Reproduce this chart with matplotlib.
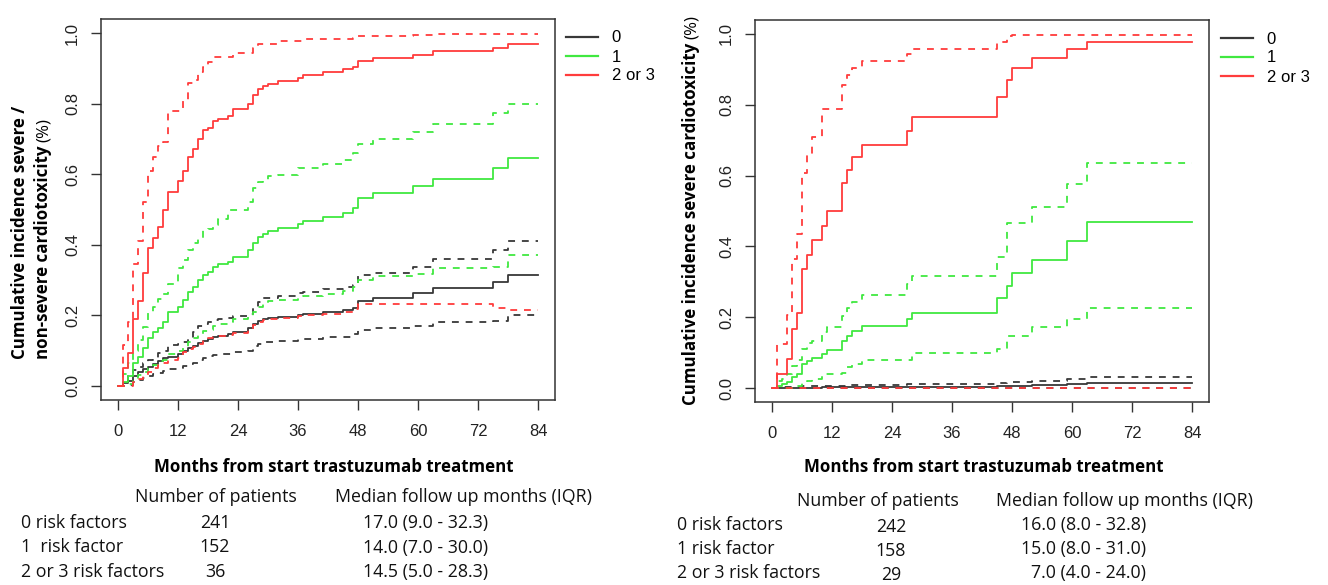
import matplotlib
matplotlib.use('Agg')
import matplotlib.pyplot as plt
from matplotlib.lines import Line2D

W, H = 1328, 585

# ---- left panel: severe / non-severe cardiotoxicity ----
left_months = [1, 2, 3, 4, 5, 6, 7, 8, 9, 10, 12, 13, 14, 15, 16, 17, 18, 19, 20,
               22, 23, 26, 27, 28, 29, 30, 32, 36, 37, 41, 45, 47, 48, 51, 59, 63, 75, 78]

left_black = [0.008, 0.015, 0.028, 0.039, 0.047, 0.055, 0.062, 0.071, 0.078, 0.083,
              0.092, 0.100, 0.107, 0.113, 0.121, 0.127, 0.133, 0.138, 0.143, 0.146,
              0.152, 0.163, 0.175, 0.184, 0.190, 0.194, 0.196, 0.200, 0.203, 0.209,
              0.215, 0.222, 0.241, 0.248, 0.263, 0.277, 0.296, 0.314]
left_black_lo = [0.000, 0.003, 0.010, 0.016, 0.022, 0.028, 0.033, 0.038, 0.043, 0.047,
                 0.052, 0.056, 0.062, 0.066, 0.074, 0.080, 0.085, 0.088, 0.090, 0.092,
                 0.095, 0.100, 0.112, 0.120, 0.124, 0.126, 0.128, 0.132, 0.134, 0.138,
                 0.140, 0.148, 0.160, 0.165, 0.170, 0.182, 0.183, 0.201]
left_black_hi = [0.010, 0.030, 0.045, 0.055, 0.065, 0.074, 0.078, 0.093, 0.100, 0.116,
                 0.120, 0.126, 0.135, 0.154, 0.170, 0.176, 0.182, 0.187, 0.190, 0.192,
                 0.198, 0.205, 0.223, 0.239, 0.248, 0.250, 0.255, 0.263, 0.267, 0.274,
                 0.281, 0.286, 0.314, 0.319, 0.338, 0.359, 0.385, 0.412]

left_green = [0.012, 0.028, 0.064, 0.083, 0.107, 0.135, 0.154, 0.163, 0.182, 0.209,
              0.225, 0.244, 0.267, 0.281, 0.300, 0.314, 0.324, 0.338, 0.345, 0.352,
              0.366, 0.385, 0.406, 0.423, 0.432, 0.439, 0.447, 0.459, 0.467, 0.480,
              0.491, 0.503, 0.532, 0.546, 0.567, 0.586, 0.617, 0.645]
left_green_lo = [0.000, 0.005, 0.020, 0.030, 0.040, 0.050, 0.060, 0.070, 0.075, 0.090,
                 0.100, 0.110, 0.125, 0.135, 0.145, 0.155, 0.160, 0.170, 0.175, 0.180,
                 0.190, 0.195, 0.210, 0.225, 0.235, 0.240, 0.245, 0.250, 0.255, 0.262,
                 0.270, 0.280, 0.300, 0.312, 0.318, 0.335, 0.338, 0.370]
left_green_hi = [0.035, 0.065, 0.100, 0.130, 0.168, 0.206, 0.225, 0.246, 0.260, 0.290,
                 0.333, 0.357, 0.385, 0.404, 0.418, 0.442, 0.445, 0.456, 0.472, 0.499,
                 0.500, 0.522, 0.560, 0.579, 0.582, 0.595, 0.597, 0.617, 0.618, 0.628,
                 0.640, 0.660, 0.685, 0.699, 0.719, 0.741, 0.772, 0.799]

left_red = [0.052, 0.093, 0.190, 0.240, 0.320, 0.390, 0.420, 0.450, 0.500, 0.550,
            0.580, 0.610, 0.650, 0.670, 0.700, 0.725, 0.730, 0.750, 0.757, 0.766,
            0.784, 0.800, 0.824, 0.840, 0.850, 0.856, 0.864, 0.872, 0.881, 0.889,
            0.897, 0.905, 0.922, 0.930, 0.939, 0.948, 0.958, 0.969]
left_red_lo = [0.000, 0.000, 0.010, 0.020, 0.030, 0.040, 0.050, 0.060, 0.065, 0.075,
               0.080, 0.095, 0.105, 0.110, 0.120, 0.130, 0.135, 0.140, 0.143, 0.145,
               0.150, 0.160, 0.172, 0.182, 0.188, 0.191, 0.194, 0.198, 0.200, 0.205,
               0.210, 0.218, 0.231, 0.232, 0.232, 0.232, 0.220, 0.215]
left_red_hi = [0.116, 0.180, 0.345, 0.410, 0.520, 0.610, 0.650, 0.680, 0.690, 0.780,
               0.780, 0.810, 0.857, 0.867, 0.889, 0.905, 0.919, 0.931, 0.931, 0.931,
               0.942, 0.942, 0.957, 0.969, 0.969, 0.969, 0.977, 0.977, 0.983, 0.983,
               0.983, 0.985, 0.992, 0.992, 0.994, 0.996, 0.997, 0.997]

# ---- right panel: severe cardiotoxicity ----
right_months = [1, 2, 3, 4, 5, 6, 7, 8, 10, 11, 14, 15, 16, 18, 27, 28, 45, 47, 48, 52, 59, 63]

right_black = [0.000, 0.000, 0.000, 0.000, 0.000, 0.000, 0.000, 0.001, 0.002, 0.002, 0.002,
               0.003, 0.003, 0.003, 0.004, 0.004, 0.006, 0.006, 0.006, 0.008, 0.010, 0.013]
right_black_lo = [0.000, 0.000, 0.000, 0.000, 0.000, 0.000, 0.000, 0.000, 0.000, 0.000, 0.000,
                  0.000, 0.000, 0.000, 0.000, 0.000, 0.000, 0.000, 0.000, 0.000, 0.000, 0.000]
right_black_hi = [0.002, 0.003, 0.003, 0.004, 0.004, 0.005, 0.005, 0.005, 0.006, 0.006, 0.007,
                  0.008, 0.009, 0.009, 0.011, 0.012, 0.015, 0.016, 0.018, 0.020, 0.025, 0.030]

right_green = [0.006, 0.010, 0.017, 0.030, 0.040, 0.067, 0.076, 0.086, 0.095, 0.108, 0.133,
               0.147, 0.161, 0.176, 0.195, 0.213, 0.253, 0.289, 0.325, 0.363, 0.416, 0.470]
right_green_lo = [0.000, 0.000, 0.000, 0.002, 0.005, 0.015, 0.020, 0.025, 0.039, 0.040, 0.043,
                  0.060, 0.067, 0.078, 0.078, 0.098, 0.110, 0.147, 0.147, 0.171, 0.196, 0.226]
right_green_hi = [0.020, 0.025, 0.040, 0.062, 0.080, 0.111, 0.126, 0.133, 0.157, 0.173, 0.204,
                  0.225, 0.244, 0.263, 0.295, 0.317, 0.371, 0.466, 0.466, 0.511, 0.577, 0.636]

right_red = [0.040, 0.040, 0.081, 0.166, 0.211, 0.336, 0.377, 0.419, 0.459, 0.499, 0.580,
             0.617, 0.653, 0.687, 0.726, 0.766, 0.822, 0.870, 0.905, 0.932, 0.958, 0.976]
right_red_lo = [0.000, 0.000, 0.000, 0.000, 0.000, 0.000, 0.000, 0.000, 0.000, 0.000, 0.000,
                0.000, 0.000, 0.000, 0.000, 0.000, 0.000, 0.000, 0.000, 0.000, 0.000, 0.000]
right_red_hi = [0.124, 0.124, 0.205, 0.364, 0.435, 0.607, 0.657, 0.709, 0.789, 0.789, 0.855,
                0.884, 0.905, 0.924, 0.942, 0.957, 0.978, 0.995, 0.997, 0.997, 0.997, 0.997]

groups = ['0', '1', '2 or 3']
x_ticks = [0, 12, 24, 36, 48, 60, 72, 84]
y_ticks = [0.0, 0.2, 0.4, 0.6, 0.8, 1.0]

left_rows = ['0 risk factors', '1  risk factor', '2 or 3 risk factors']
left_n = ['241', '152', '36']
left_median = ['17.0 (9.0 - 32.3)', '14.0 (7.0 - 30.0)', '14.5 (5.0 - 28.3)']
right_rows = ['0 risk factors', '1 risk factor', '2 or 3 risk factors']
right_n = ['242', '158', '29']
right_median = ['16.0 (8.0 - 32.8)', '15.0 (8.0 - 31.0)', '7.0 (4.0 - 24.0)']

COLORS = ['#383838', '#40e840', '#ff3c3c']
TEXT_FONT = 'Open Sans'
BOLD_SIZE = 12.2

plt.rcParams['font.family'] = ['Liberation Sans', 'DejaVu Sans']

fig = plt.figure(figsize=(W / 100, H / 100), dpi=100)


def px(x, y):
    # pixel position (from top-left) -> figure fraction
    return x / W, 1 - y / H


def draw_panel(rect, months, series):
    ax = fig.add_axes(rect)
    for color, (est, lo, hi) in zip(COLORS, series):
        xs = [0] + months + [84]
        ax.plot(xs, [0] + est + [est[-1]], drawstyle='steps-post', color=color, lw=1.3)
        for band in (lo, hi):
            ax.plot(xs, [0] + band + [band[-1]], drawstyle='steps-post', color=color,
                    lw=1.3, ls=(0, (3.8, 3.8)))
    ax.set_xlim(-3.36, 87.36)
    ax.set_ylim(-0.04, 1.04)
    ax.set_xticks(x_ticks)
    ax.set_yticks(y_ticks)
    ax.set_yticklabels([f'{v:.1f}' for v in y_ticks], rotation=90, va='center')
    ax.tick_params(length=7.2, width=1.0, color='#333333', labelsize=12,
                   labelcolor='#222222')
    ax.tick_params(axis='x', pad=10)
    ax.tick_params(axis='y', pad=8)
    for s in ax.spines.values():
        s.set_color('#333333')
        s.set_linewidth(1.1)
    return ax


ax1 = draw_panel([101.2 / W, 1 - 400.1 / H, 453.6 / W, 381.2 / H], left_months,
                 [(left_black, left_black_lo, left_black_hi),
                  (left_green, left_green_lo, left_green_hi),
                  (left_red, left_red_lo, left_red_hi)])
ax2 = draw_panel([755.2 / W, 1 - 402.2 / H, 453.6 / W, 382.4 / H], right_months,
                 [(right_black, right_black_lo, right_black_hi),
                  (right_green, right_green_lo, right_green_hi),
                  (right_red, right_red_lo, right_red_hi)])

# legends
handles = [Line2D([], [], color=c, lw=1.6) for c in COLORS]
for lx, ly in ((566, 30.5), (1221, 31.5)):
    fig.legend(handles, groups, loc='upper left', bbox_to_anchor=px(lx, ly),
               frameon=False, borderpad=0, borderaxespad=0, handlelength=1.9,
               handletextpad=0.85, labelspacing=0.24, prop={'size': 12})

# x labels
for cx in (334, 984):
    fig.text(*px(cx, 467), 'Months from start trastuzumab treatment', ha='center',
             va='center', family=TEXT_FONT, fontweight='bold', fontsize=BOLD_SIZE)


# y labels: bold text followed by a regular "(%)"
def ylabel(x, y0, text, pct=True):
    t = fig.text(*px(x, y0), text, rotation=90, rotation_mode='anchor', ha='left',
                 va='baseline', family=TEXT_FONT, fontweight='bold', fontsize=BOLD_SIZE)
    if not pct:
        return
    fig.canvas.draw()
    bb = t.get_window_extent()
    fig.text(x / W, (bb.y1 + 4) / H, '(%)', rotation=90, rotation_mode='anchor',
             ha='left', va='baseline', family=TEXT_FONT, fontsize=BOLD_SIZE)


ylabel(25, 359, 'Cumulative incidence severe /', pct=False)
ylabel(48, 359, 'non-severe cardiotoxicity')
ylabel(696, 405, 'Cumulative incidence severe cardiotoxicity')

# tables under the panels
tkw = dict(family=TEXT_FONT, fontsize=12.8, va='center', color='#111111')
fig.text(*px(135, 497), 'Number of patients', **tkw)
fig.text(*px(335, 497), 'Median follow up months (IQR)', **tkw)
for i, (lab, n, med) in enumerate(zip(left_rows, left_n, left_median)):
    y = 523 + 24.5 * i
    fig.text(*px(21, y), lab, **tkw)
    fig.text(*px(215, y), n, ha='center', **tkw)
    fig.text(*px(363, y), med, **tkw)

fig.text(*px(797, 501), 'Number of patients', **tkw)
fig.text(*px(996, 501), 'Median follow up months (IQR)', **tkw)
for i, (lab, n, med) in enumerate(zip(right_rows, right_n, right_median)):
    y = 525 + 24 * i
    fig.text(*px(677, y), lab, **tkw)
    fig.text(*px(891, y + 2), n, ha='center', **tkw)
    fig.text(*px(1146, y), med, ha='right', **tkw)

fig.savefig('out.png', dpi=100)
